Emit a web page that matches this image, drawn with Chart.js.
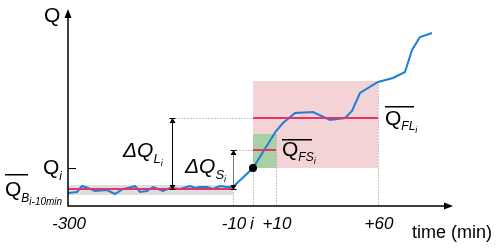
<!DOCTYPE html>
<html>
<head>
<meta charset="utf-8">
<script src="https://cdn.jsdelivr.net/npm/chart.js@4.4.0/dist/chart.umd.min.js"></script>
<style>
  html, body { margin: 0; padding: 0; background: #fff; }
  #wrap { width: 500px; height: 248px; position: relative; }
</style>
</head>
<body>
<div id="wrap"><canvas id="c"></canvas></div>
<script>
// schematic units: x = position along time axis, y = discharge Q
const tickPos = [0, 165, 185, 208, 310];
const tickLabels = ['-300', '-10', 'i', '+10', '+60'];

const flowX = [0, 9, 14, 20, 27, 39, 47, 55, 64, 67, 72, 79, 85, 90, 95, 102, 112, 122, 127, 132, 139, 145, 152, 159, 165,
  185, 208, 215, 227, 245, 262, 277, 284, 292, 310, 325, 337, 344, 352, 364];
const flowY = [13, 14, 20, 18, 15, 16, 12, 17, 19, 20, 14, 15, 19, 17, 15, 18, 17, 20, 18, 19, 19, 17, 20, 19, 19,
  38, 75, 83, 93, 94, 86, 88, 95, 113, 124, 128, 134, 156, 169, 173];

const qi = 38;        // Q at time i
const qBase = 17;     // mean before i-10
const qFS = 56;       // mean first 10 min
const qFL = 88;       // mean first 60 min
const baseBand = [11, 21];
const fsBand = [38, 72];
const flBand = [38, 125];

function ln(x0, x1, y0, y1, color, w) {
  return {
    data: [{ x: x0, y: y0 }, { x: x1, y: y1 }],
    borderColor: color, borderWidth: w, pointRadius: 0, showLine: true
  };
}

const RED = '#e8336a';
const BLUE = '#1c80d6';

const overlay = {
  id: 'overlay',
  beforeDatasetsDraw(chart) {
    const { ctx } = chart;
    const X = v => chart.scales.x.getPixelForValue(v);
    const Y = v => chart.scales.y.getPixelForValue(v);
    ctx.save();
    // boxes
    ctx.fillStyle = '#f3d3d6';
    ctx.fillRect(X(185), Y(flBand[1]), X(310) - X(185), Y(flBand[0]) - Y(flBand[1]));
    ctx.fillStyle = '#a9d1a6';
    ctx.fillRect(X(185), Y(fsBand[1]), X(208) - X(185), Y(fsBand[0]) - Y(fsBand[1]));
    ctx.fillStyle = '#dedede';
    ctx.fillRect(X(0), Y(baseBand[1]), X(165) - X(0), Y(baseBand[0]) - Y(baseBand[1]));
    // dotted guides
    ctx.strokeStyle = '#8a8a8a';
    ctx.lineWidth = 1;
    ctx.setLineDash([1, 2]);
    const dot = (x0, y0, x1, y1) => {
      ctx.beginPath(); ctx.moveTo(Math.round(x0) + 0.5, Math.round(y0) + 0.5);
      ctx.lineTo(Math.round(x1) + 0.5, Math.round(y1) + 0.5); ctx.stroke();
    };
    dot(X(165), Y(qBase), X(165), Y(0));
    dot(X(185), Y(qi), X(185), Y(0));
    dot(X(208), Y(fsBand[1]), X(208), Y(0));
    dot(X(310), Y(flBand[1]), X(310), Y(0));
    dot(X(104), Y(qFL), X(185), Y(qFL));
    dot(X(165), Y(qFS), X(185), Y(qFS));
    ctx.restore();
  },
  afterDatasetsDraw(chart) {
    const { ctx } = chart;
    const X = v => chart.scales.x.getPixelForValue(v);
    const Y = v => chart.scales.y.getPixelForValue(v);
    const x0 = X(0), y0 = Y(0);
    ctx.save();
    // axes
    ctx.strokeStyle = '#000';
    ctx.fillStyle = '#000';
    ctx.lineWidth = 1.5;
    ctx.beginPath();
    ctx.moveTo(x0, 16); ctx.lineTo(x0, y0); ctx.lineTo(446, y0);
    ctx.stroke();
    ctx.beginPath(); ctx.moveTo(x0, 9); ctx.lineTo(x0 - 3.5, 18); ctx.lineTo(x0 + 3.5, 18); ctx.fill();
    ctx.beginPath(); ctx.moveTo(453, y0); ctx.lineTo(444, y0 - 3.5); ctx.lineTo(444, y0 + 3.5); ctx.fill();
    // Q_i tick
    ctx.lineWidth = 1;
    ctx.beginPath(); ctx.moveTo(x0, Y(qi) + 0.5); ctx.lineTo(x0 + 8, Y(qi) + 0.5); ctx.stroke();
    // double arrows
    const arrow = (x, ya, yb, color) => {
      ctx.strokeStyle = color; ctx.lineWidth = 1;
      ctx.beginPath(); ctx.moveTo(Math.round(x) + 0.5, ya + 3); ctx.lineTo(Math.round(x) + 0.5, yb - 3); ctx.stroke();
      ctx.fillStyle = '#000';
      const xc = Math.round(x) + 0.5;
      ctx.beginPath(); ctx.moveTo(xc, ya); ctx.lineTo(xc - 3, ya + 5); ctx.lineTo(xc + 3, ya + 5); ctx.fill();
      ctx.beginPath(); ctx.moveTo(xc, yb); ctx.lineTo(xc - 3, yb - 5); ctx.lineTo(xc + 3, yb - 5); ctx.fill();
      ctx.fillRect(xc - 3, ya, 6, 1); ctx.fillRect(xc - 3, yb - 1, 6, 1);
    };
    arrow(X(104), Y(qFL), Y(qBase) + 1, '#000');
    arrow(X(165), Y(qFS), Y(qBase) + 1, '#777');
    // point at i
    ctx.fillStyle = '#000';
    ctx.beginPath(); ctx.arc(X(185), Y(qi), 4, 0, Math.PI * 2); ctx.fill();

    // text
    const F = 'Liberation Sans, Arial, sans-serif';
    ctx.fillStyle = '#000';
    ctx.textBaseline = 'alphabetic';
    ctx.textAlign = 'center';
    ctx.font = 'italic 17px ' + F;
    tickPos.forEach((p, k) => ctx.fillText(tickLabels[k], X(p) + (k === 2 ? -1 : 1), 229));
    ctx.textAlign = 'left';
    ctx.font = '18px ' + F;
    ctx.fillText('time (min)', 412, 238);

    const txt = (s, x, y, size, italic) => {
      ctx.font = (italic ? 'italic ' : '') + size + 'px ' + F;
      ctx.fillText(s, x, y);
      return x + ctx.measureText(s).width;
    };
    const bar = (xa, xb, y) => { ctx.fillRect(xa, y, xb - xa, 1.5); };

    txt('Q', 44, 22, 21, false);
    // Q_i
    let e = txt('Q', 43, 174, 21, false);
    txt('i', e, 180, 12, true);
    // Q bar B i-10min
    e = txt('Q', 5, 196, 21, false);
    e = txt('B', e, 202, 12, true);
    txt('i-10min', e, 205, 10, true);
    bar(5, 28, 174);
    // ΔQ_Li
    e = txt('ΔQ', 123, 157, 21, true);
    e = txt('L', e, 163, 13, true);
    txt('i', e, 166, 9, true);
    // ΔQ_Si
    e = txt('ΔQ', 185, 173, 21, true);
    e = txt('S', e, 179, 13, true);
    txt('i', e, 182, 9, true);
    // Q bar FS
    e = txt('Q', 282, 156, 21, false);
    e = txt('FS', e, 161, 12, true);
    txt('i', e, 164, 9, true);
    bar(282, 312, 139);
    // Q bar FL
    e = txt('Q', 385, 125, 21, false);
    e = txt('FL', e, 130, 12, true);
    txt('i', e, 133, 9, true);
    bar(385, 414, 106);
    ctx.restore();
  }
};

new Chart(document.getElementById('c'), {
  type: 'scatter',
  data: {
    datasets: [
      ln(0, 165, qBase, qBase, RED, 2),
      ln(185, 208, qFS, qFS, RED, 2),
      ln(185, 310, qFL, qFL, RED, 2),
      {
        data: flowX.map((x, k) => ({ x: x, y: flowY[k] })),
        borderColor: BLUE, borderWidth: 2, pointRadius: 0, showLine: true, tension: 0
      }
    ]
  },
  options: {
    responsive: true,
    maintainAspectRatio: false,
    animation: false,
    layout: { padding: { left: 68, right: 48, top: 10, bottom: 42 } },
    scales: {
      x: { type: 'linear', min: 0, max: 384, display: false },
      y: { type: 'linear', min: 0, max: 196, display: false }
    },
    plugins: { legend: { display: false }, tooltip: { enabled: false } }
  },
  plugins: [overlay]
});
</script>
</body>
</html>
